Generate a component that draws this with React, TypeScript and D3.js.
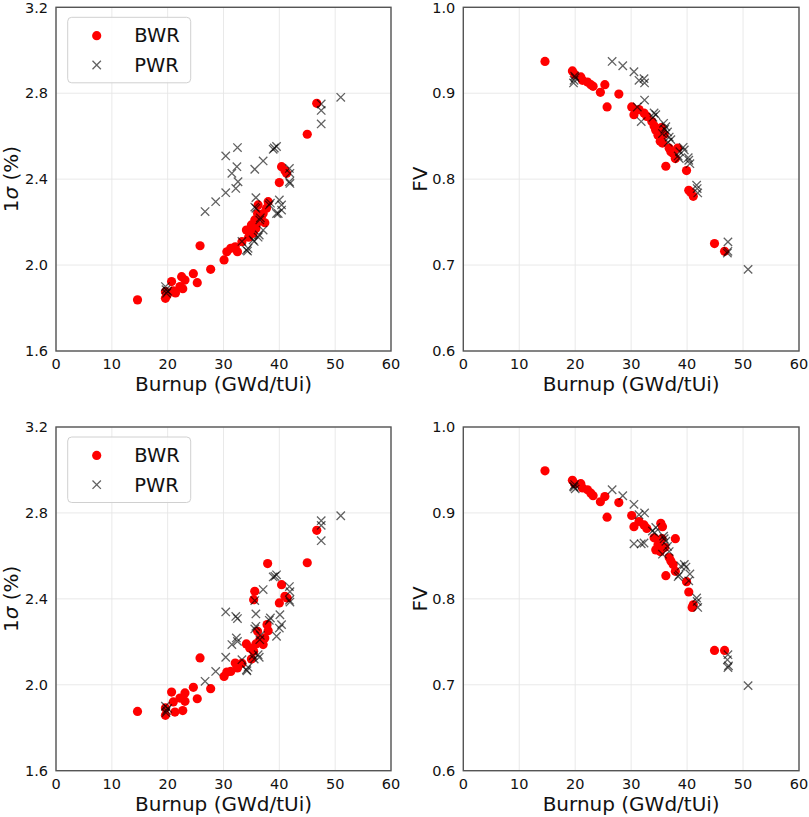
import React from 'react';
import * as d3 from 'd3';

type Pt = [number, number];

// burnup (GWd/tUi) vs 1 sigma (%) – upper row
const bwrSigmaTop: Pt[] = [
  [14.6, 1.838], [19.6, 1.845], [19.6, 1.876], [19.9, 1.86], [20.7, 1.923], [21.0, 1.88], [21.4, 1.87],
  [22.2, 1.9], [22.5, 1.946], [23.1, 1.93], [22.7, 1.89], [24.6, 1.96], [25.3, 1.918], [25.8, 2.09],
  [27.7, 1.98], [30.1, 2.024], [30.6, 2.062], [31.3, 2.078], [32.1, 2.085], [32.5, 2.062], [33.3, 2.109],
  [34.1, 2.163], [34.7, 2.148], [35.0, 2.187], [35.3, 2.148], [35.6, 2.21], [35.9, 2.19], [36.1, 2.24],
  [36.2, 2.28], [36.8, 2.225], [37.1, 2.24], [37.4, 2.197], [37.7, 2.265], [38.0, 2.295], [34.5, 2.13],
  [35.8, 2.17], [40.0, 2.384], [40.4, 2.458], [41.0, 2.44], [41.3, 2.427], [45.0, 2.609], [46.7, 2.753],
];
const pwrSigmaTop: Pt[] = [
  [19.6, 1.9], [19.8, 1.869], [20.0, 1.878], [19.7, 1.885], [26.7, 2.249], [28.6, 2.295], [30.4, 2.337],
  [30.4, 2.508], [31.5, 2.427], [32.4, 2.458], [32.5, 2.547], [32.2, 2.357], [32.6, 2.388], [35.6, 2.446],
  [37.1, 2.485], [38.9, 2.539], [39.1, 2.545], [39.5, 2.552], [35.8, 2.314], [35.8, 2.264], [35.6, 2.27],
  [38.4, 2.288], [38.2, 2.28], [40.0, 2.303], [40.4, 2.28], [39.8, 2.24], [40.4, 2.256], [39.5, 2.24],
  [41.8, 2.388], [41.9, 2.38], [41.9, 2.427], [41.8, 2.45], [34.4, 2.078], [34.1, 2.07], [34.3, 2.065],
  [35.3, 2.117], [35.5, 2.11], [36.4, 2.14], [36.5, 2.21], [36.6, 2.22], [37.1, 2.163], [33.3, 2.11],
  [36.2, 2.13], [47.5, 2.75], [47.5, 2.72], [47.5, 2.657], [51.0, 2.781],
];

// burnup vs FV – upper row
const bwrFvTop: Pt[] = [
  [14.6, 0.937], [19.5, 0.926], [19.9, 0.922], [21.0, 0.919], [21.3, 0.915], [22.2, 0.913], [22.8, 0.91],
  [23.2, 0.908], [24.5, 0.901], [25.3, 0.91], [25.7, 0.884], [27.8, 0.899], [30.1, 0.884], [30.5, 0.875],
  [31.4, 0.881], [32.3, 0.877], [32.8, 0.873], [33.7, 0.867], [34.1, 0.862], [34.4, 0.857], [34.8, 0.851],
  [35.2, 0.844], [35.6, 0.842], [35.4, 0.86], [35.9, 0.852], [36.2, 0.815], [36.8, 0.836], [37.1, 0.832],
  [37.5, 0.83], [37.9, 0.824], [38.3, 0.836], [39.9, 0.81], [40.3, 0.787], [40.6, 0.785], [41.1, 0.78],
  [44.9, 0.725], [46.7, 0.716],
];
const pwrFvTop: Pt[] = [
  [19.8, 0.915], [19.9, 0.92], [20.0, 0.918], [19.7, 0.912], [26.6, 0.937], [28.5, 0.932], [30.5, 0.925],
  [31.4, 0.915], [32.3, 0.917], [32.4, 0.912], [32.4, 0.892], [31.8, 0.867], [31.1, 0.884], [34.1, 0.877],
  [34.4, 0.875], [33.9, 0.872], [35.8, 0.865], [36.2, 0.861], [36.5, 0.855], [36.8, 0.849], [37.1, 0.846],
  [35.6, 0.853], [36.0, 0.858], [36.6, 0.843], [38.6, 0.824], [38.4, 0.827], [38.7, 0.832], [39.3, 0.837],
  [39.5, 0.834], [40.3, 0.822], [40.5, 0.818], [40.2, 0.825], [41.7, 0.793], [41.8, 0.789], [41.9, 0.784],
  [47.3, 0.727], [47.2, 0.714], [47.3, 0.716], [50.9, 0.695],
];

// burnup vs 1 sigma – lower row
const bwrSigmaBottom: Pt[] = [
  [14.6, 1.876], [19.6, 1.858], [19.6, 1.892], [20.7, 1.966], [21.0, 1.92], [21.3, 1.873], [22.2, 1.938],
  [22.7, 1.88], [23.1, 1.923], [23.1, 1.962], [24.6, 1.988], [25.3, 1.935], [25.8, 2.125], [27.7, 1.982],
  [30.1, 2.039], [30.6, 2.059], [31.3, 2.062], [32.1, 2.101], [32.5, 2.078], [33.3, 2.1], [34.1, 2.19],
  [34.7, 2.171], [35.4, 2.156], [35.0, 2.12], [35.6, 2.435], [35.4, 2.396], [36.1, 2.249], [36.5, 2.21],
  [37.1, 2.187], [37.4, 2.218], [37.8, 2.28], [38.0, 2.252], [37.9, 2.564], [40.0, 2.381], [40.4, 2.466],
  [41.0, 2.412], [41.4, 2.404], [45.0, 2.568], [46.7, 2.719], [35.8, 2.19], [36.8, 2.2],
];
const pwrSigmaBottom: Pt[] = [
  [19.6, 1.9], [19.8, 1.88], [20.0, 1.89], [19.7, 1.87], [26.7, 2.016], [28.6, 2.062], [30.4, 2.128],
  [30.4, 2.339], [31.5, 2.187], [32.3, 2.218], [32.5, 2.202], [32.2, 2.318], [32.5, 2.308], [35.6, 2.392],
  [35.8, 2.33], [35.8, 2.272], [35.6, 2.26], [37.1, 2.443], [38.9, 2.502], [39.5, 2.512], [39.2, 2.505],
  [38.4, 2.311], [38.2, 2.3], [40.1, 2.326], [40.4, 2.28], [39.5, 2.226], [40.0, 2.264], [41.8, 2.394],
  [41.9, 2.385], [41.9, 2.433], [41.8, 2.457], [34.1, 2.07], [34.4, 2.082], [34.2, 2.065], [35.3, 2.136],
  [35.5, 2.12], [36.4, 2.128], [36.5, 2.21], [36.6, 2.23], [33.3, 2.117], [36.2, 2.14], [47.5, 2.764],
  [47.5, 2.742], [47.5, 2.671], [51.0, 2.787],
];

// burnup vs FV – lower row
const bwrFvBottom: Pt[] = [
  [14.6, 0.949], [19.5, 0.938], [19.9, 0.934], [21.0, 0.934], [21.3, 0.929], [22.2, 0.927], [22.8, 0.923],
  [23.2, 0.92], [24.5, 0.913], [25.3, 0.919], [25.7, 0.895], [27.8, 0.912], [30.1, 0.897], [30.5, 0.884],
  [31.4, 0.89], [32.3, 0.886], [32.8, 0.882], [34.1, 0.871], [34.4, 0.857], [34.8, 0.863], [35.2, 0.855],
  [35.3, 0.888], [35.6, 0.884], [35.5, 0.87], [36.0, 0.86], [36.2, 0.827], [36.8, 0.848], [37.1, 0.844],
  [37.5, 0.84], [37.9, 0.87], [37.9, 0.832], [39.9, 0.82], [40.3, 0.808], [40.9, 0.79], [41.1, 0.793],
  [44.9, 0.74], [46.7, 0.74],
];
const pwrFvBottom: Pt[] = [
  [19.8, 0.93], [19.9, 0.933], [20.0, 0.928], [19.7, 0.931], [26.6, 0.927], [28.5, 0.92], [30.5, 0.91],
  [31.4, 0.898], [32.4, 0.9], [30.5, 0.864], [31.8, 0.864], [32.3, 0.865], [33.8, 0.879], [34.4, 0.883],
  [34.2, 0.877], [35.8, 0.873], [36.2, 0.867], [36.5, 0.861], [36.8, 0.855], [35.6, 0.852], [35.9, 0.87],
  [38.6, 0.828], [38.4, 0.826], [38.9, 0.838], [39.5, 0.84], [39.8, 0.837], [40.3, 0.821], [40.5, 0.829],
  [41.7, 0.801], [41.8, 0.797], [41.9, 0.79], [47.3, 0.735], [47.2, 0.729], [47.3, 0.72], [47.4, 0.722],
  [50.9, 0.699],
];

const burnupTicks = [0, 10, 20, 30, 40, 50, 60];
const sigmaTicks = [1.6, 2.0, 2.4, 2.8, 3.2];
const fvTicks = [0.6, 0.7, 0.8, 0.9, 1.0];

const FONT = '"DejaVu Sans", sans-serif';
const RED = '#ff0000';

interface PanelProps {
  left: number;
  top: number;
  width: number;
  height: number;
  bwr: Pt[];
  pwr: Pt[];
  yTicks: number[];
  yLabel: 'sigma' | 'fv';
  yLabelOffset: number;
  legend?: boolean;
}

const Cross: React.FC<{ x: number; y: number; s: number }> = ({ x, y, s }) => (
  <path d={`M${x - s},${y - s}L${x + s},${y + s}M${x - s},${y + s}L${x + s},${y - s}`} />
);

const Panel: React.FC<PanelProps> = ({ left, top, width, height, bwr, pwr, yTicks, yLabel, yLabelOffset, legend }) => {
  const x = d3.scaleLinear().domain([0, 60]).range([0, width]);
  const y = d3.scaleLinear().domain(d3.extent(yTicks) as [number, number]).range([height, 0]);

  return (
    <g transform={`translate(${left},${top})`}>
      {/* grid */}
      {burnupTicks.map(t => (
        <line key={'gx' + t} x1={x(t)} x2={x(t)} y1={0} y2={height} stroke="#e6e6e6" strokeWidth={0.9} />
      ))}
      {yTicks.map(t => (
        <line key={'gy' + t} x1={0} x2={width} y1={y(t)} y2={y(t)} stroke="#e6e6e6" strokeWidth={0.9} />
      ))}

      {/* BWR dots */}
      <g fill={RED}>
        {bwr.map((d, i) => (
          <circle key={i} cx={x(d[0])} cy={y(d[1])} r={4.6} />
        ))}
      </g>
      {/* PWR crosses */}
      <g stroke="#000" strokeOpacity={0.62} strokeWidth={1.3} fill="none">
        {pwr.map((d, i) => (
          <Cross key={i} x={x(d[0])} y={y(d[1])} s={4.2} />
        ))}
      </g>

      <rect x={0} y={0} width={width} height={height} fill="none" stroke="#555" strokeWidth={1.4} />

      {/* tick labels */}
      <g fontFamily={FONT} fontSize={14.5} fill="#111">
        {burnupTicks.map(t => (
          <text key={'tx' + t} x={x(t)} y={height + 18.5} textAnchor="middle">{t}</text>
        ))}
        {yTicks.map(t => (
          <text key={'ty' + t} x={-8} y={y(t)} dy="0.36em" textAnchor="end">{d3.format('.1f')(t)}</text>
        ))}
      </g>

      {/* axis labels */}
      <text x={width / 2} y={height + 40.5} textAnchor="middle" fontFamily={FONT} fontSize={20} fill="#111">
        Burnup (GWd/tUi)
      </text>
      <text
        transform={`translate(${yLabelOffset},${height / 2}) rotate(-90)`}
        dy="0.36em"
        textAnchor="middle"
        fontFamily={FONT}
        fontSize={20}
        fill="#111"
      >
        {yLabel === 'sigma' ? (
          <>
            1<tspan fontStyle="italic">σ</tspan> (%)
          </>
        ) : (
          'FV'
        )}
      </text>

      {legend && (
        <g transform="translate(11.7,10)">
          <rect x={0} y={0} width={123} height={65.5} rx={4} fill="#fff" fillOpacity={0.85} stroke="#d0d0d0" strokeWidth={1} />
          <circle cx={29} cy={18.4} r={4.6} fill={RED} />
          <g stroke="#000" strokeOpacity={0.62} strokeWidth={1.3}>
            <Cross x={29} y={47.7} s={4.2} />
          </g>
          <g fontFamily={FONT} fontSize={19.5} fill="#111">
            <text x={66.5} y={25}>BWR</text>
            <text x={66.5} y={54.5}>PWR</text>
          </g>
        </g>
      )}
    </g>
  );
};

export default function App() {
  return (
    <svg
      width={809}
      height={817}
      viewBox="0 0 809 817"
      style={{ position: 'absolute', left: 0, top: 0, background: '#fff' }}
    >
      <Panel left={56} top={7.3} width={335} height={343.7} bwr={bwrSigmaTop} pwr={pwrSigmaTop}
        yTicks={sigmaTicks} yLabel="sigma" yLabelOffset={-45} legend />
      <Panel left={463.3} top={7.3} width={335.7} height={343.7} bwr={bwrFvTop} pwr={pwrFvTop}
        yTicks={fvTicks} yLabel="fv" yLabelOffset={-44} />
      <Panel left={56} top={427} width={335} height={343.7} bwr={bwrSigmaBottom} pwr={pwrSigmaBottom}
        yTicks={sigmaTicks} yLabel="sigma" yLabelOffset={-45} legend />
      <Panel left={463.3} top={427} width={335.7} height={343.7} bwr={bwrFvBottom} pwr={pwrFvBottom}
        yTicks={fvTicks} yLabel="fv" yLabelOffset={-44} />
    </svg>
  );
}
